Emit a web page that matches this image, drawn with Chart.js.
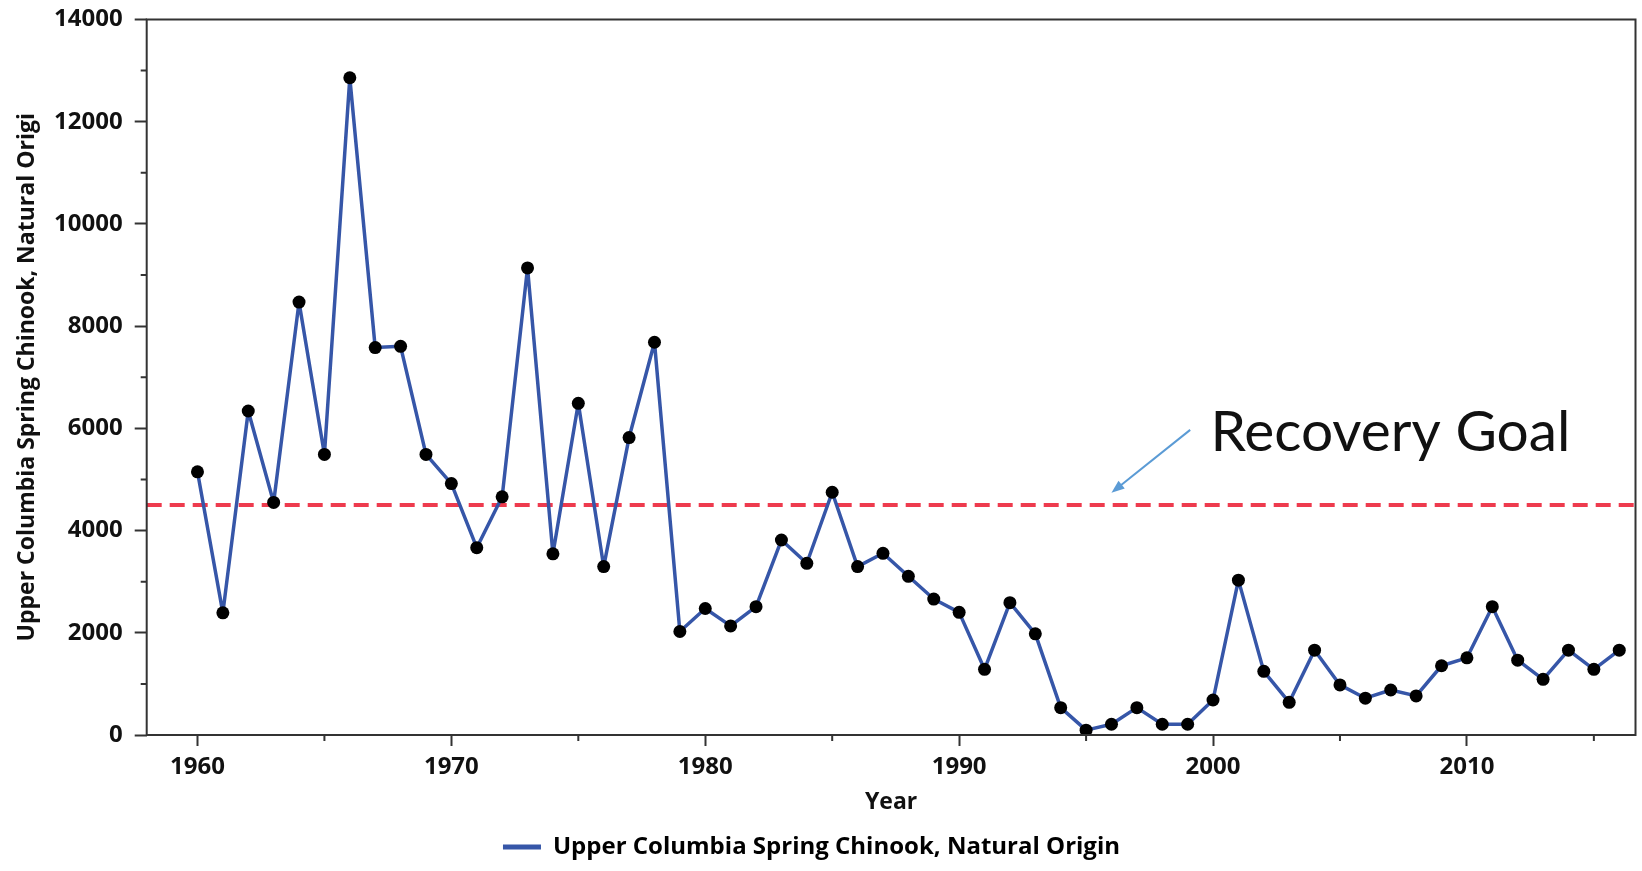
<!DOCTYPE html>
<html>
<head>
<meta charset="utf-8">
<title>Upper Columbia Spring Chinook</title>
<script src="https://cdn.jsdelivr.net/npm/chart.js@4/dist/chart.umd.min.js"></script>
<style>
  html, body { margin: 0; padding: 0; background: #fff; }
  #wrap { width: 1642px; height: 871px; position: relative; }
</style>
</head>
<body>
<div id="wrap"><canvas id="chart"></canvas></div>
<script>
// === Data ===
const years = [
  1960, 1961, 1962, 1963, 1964, 1965, 1966, 1967, 1968, 1969,
  1970, 1971, 1972, 1973, 1974, 1975, 1976, 1977, 1978, 1979,
  1980, 1981, 1982, 1983, 1984, 1985, 1986, 1987, 1988, 1989,
  1990, 1991, 1992, 1993, 1994, 1995, 1996, 1997, 1998, 1999,
  2000, 2001, 2002, 2003, 2004, 2005, 2006, 2007, 2008, 2009,
  2010, 2011, 2012, 2013, 2014, 2015, 2016
];
const counts = [
  5150, 2390, 6340, 4550, 8470, 5490, 12860, 7580, 7605, 5490,
  4920, 3665, 4660, 9140, 3545, 6490, 3295, 5820, 7685, 2025,
  2475, 2135, 2510, 3815, 3360, 4750, 3295, 3555, 3105, 2660,
  2400, 1285, 2590, 1980, 535, 95, 210, 535, 210, 210,
  685, 3030, 1245, 640, 1660, 980, 720, 880, 765, 1355,
  1510, 2510, 1465, 1090, 1660, 1285, 1660
];
const goalValue = 4500;
const goalYears = [1958, 2016.64];

const xMajorTicks = [1960, 1970, 1980, 1990, 2000, 2010];
const xMinorTicks = [1965, 1975, 1985, 1995, 2005, 2015];
const yMajorTicks = [0, 2000, 4000, 6000, 8000, 10000, 12000, 14000];
const yMinorTicks = [1000, 3000, 5000, 7000, 9000, 11000, 13000];

const seriesLabel = 'Upper Columbia Spring Chinook, Natural Origin';
const yTitle = 'Upper Columbia Spring Chinook, Natural Origi';
const xTitle = 'Year';
const goalText = 'Recovery Goal';

// annotation anchor points, in data units
const arrowFrom = { x: 1999.1, y: 5970 };
const arrowTo = { x: 1996.0, y: 4740 };
const textAt = { x: 1999.9, y: 5560 };

const BLUE = '#3656a8';
const RED = '#ee3b4e';
const AXIS = '#333';
const TEXT = '#111';
const boldFont = size => ({ family: 'Open Sans', weight: 'bold', size });

// === Frame + minor ticks ===
const frame = {
  id: 'frame',
  afterLayout(chart) {
    // legend in the original sits a bit left of the canvas centre
    chart.legend.left -= 16;
    chart.legend.right -= 16;
  },
  afterDraw(chart) {
    const { ctx, chartArea: a, scales: { x, y } } = chart;
    ctx.save();
    ctx.strokeStyle = AXIS;
    ctx.lineWidth = 2;
    ctx.strokeRect(a.left, a.top, a.right - a.left, a.bottom - a.top);
    ctx.beginPath();
    xMinorTicks.forEach(v => {
      const px = x.getPixelForValue(v);
      ctx.moveTo(px, a.bottom);
      ctx.lineTo(px, a.bottom + 6);
    });
    yMinorTicks.forEach(v => {
      const py = y.getPixelForValue(v);
      ctx.moveTo(a.left, py);
      ctx.lineTo(a.left - 6, py);
    });
    ctx.stroke();
    ctx.restore();
  }
};

// === Recovery goal note ===
const goalNote = {
  id: 'goalNote',
  afterDatasetsDraw(chart) {
    const { ctx, scales: { x, y } } = chart;
    const x0 = x.getPixelForValue(arrowFrom.x), y0 = y.getPixelForValue(arrowFrom.y);
    const x1 = x.getPixelForValue(arrowTo.x), y1 = y.getPixelForValue(arrowTo.y);
    const ang = Math.atan2(y1 - y0, x1 - x0);
    ctx.save();
    ctx.strokeStyle = '#5b9bd5';
    ctx.fillStyle = '#5b9bd5';
    ctx.lineWidth = 2;
    ctx.beginPath();
    ctx.moveTo(x0, y0);
    ctx.lineTo(x1 - 8 * Math.cos(ang), y1 - 8 * Math.sin(ang));
    ctx.stroke();
    ctx.beginPath();
    ctx.moveTo(x1, y1);
    ctx.lineTo(x1 - 13 * Math.cos(ang) + 5 * Math.sin(ang), y1 - 13 * Math.sin(ang) - 5 * Math.cos(ang));
    ctx.lineTo(x1 - 13 * Math.cos(ang) - 5 * Math.sin(ang), y1 - 13 * Math.sin(ang) + 5 * Math.cos(ang));
    ctx.closePath();
    ctx.fill();

    const tx = x.getPixelForValue(textAt.x), ty = y.getPixelForValue(textAt.y);
    ctx.font = '56px Lato';
    ctx.fillStyle = TEXT;
    ctx.textBaseline = 'alphabetic';
    const w = ctx.measureText(goalText).width;
    ctx.translate(tx, ty);
    ctx.scale(360 / w, 1);
    ctx.fillText(goalText, 0, 0);
    ctx.restore();
  }
};

new Chart(document.getElementById('chart'), {
  type: 'line',
  data: {
    datasets: [
      {
        label: seriesLabel,
        data: years.map((yr, i) => ({ x: yr, y: counts[i] })),
        borderColor: BLUE,
        backgroundColor: BLUE,
        borderWidth: 3.5,
        borderJoinStyle: 'round',
        pointRadius: 6.5,
        pointBackgroundColor: '#000',
        pointBorderColor: '#000',
        pointBorderWidth: 0,
        tension: 0,
        order: 0
      },
      {
        label: 'goal',
        data: goalYears.map(yr => ({ x: yr, y: goalValue })),
        borderColor: RED,
        borderWidth: 4,
        borderDash: [15, 8],
        pointRadius: 0,
        order: 1
      }
    ]
  },
  options: {
    responsive: true,
    maintainAspectRatio: false,
    animation: false,
    layout: { padding: { left: 14, top: 19.5, right: 1, bottom: 2 } },
    plugins: {
      tooltip: { enabled: false },
      legend: {
        position: 'bottom',
        labels: {
          boxWidth: 38,
          boxHeight: 5,
          padding: 6,
          font: boldFont(24),
          color: TEXT,
          generateLabels: () => [{
            text: seriesLabel, fillStyle: BLUE, strokeStyle: BLUE, lineWidth: 0, datasetIndex: 0
          }]
        }
      }
    },
    scales: {
      x: {
        type: 'linear',
        min: goalYears[0],
        max: goalYears[1],
        afterBuildTicks: s => { s.ticks = xMajorTicks.map(v => ({ value: v })); },
        afterFit: s => { s.height = 94; },
        ticks: {
          callback: v => String(v),
          font: boldFont(24),
          color: TEXT,
          padding: 7,
          maxRotation: 0,
          autoSkip: false
        },
        grid: { drawOnChartArea: false, tickLength: 11, tickColor: AXIS, tickWidth: 2 },
        border: { display: false },
        title: { display: true, text: xTitle, font: boldFont(23), color: TEXT, padding: { top: 0, bottom: 13 } }
      },
      y: {
        min: 0,
        max: 14000,
        afterBuildTicks: s => { s.ticks = yMajorTicks.map(v => ({ value: v })); },
        afterFit: s => { s.width = 132.7; s.paddingTop = 0; s.paddingBottom = 0; },
        ticks: {
          callback: v => String(v),
          font: boldFont(24),
          color: TEXT,
          padding: 12
        },
        grid: { drawOnChartArea: false, tickLength: 12, tickColor: AXIS, tickWidth: 2 },
        border: { display: false },
        title: { display: true, text: yTitle, font: boldFont(23), color: TEXT, padding: 0 }
      }
    }
  },
  plugins: [frame, goalNote]
});
</script>
</body>
</html>
